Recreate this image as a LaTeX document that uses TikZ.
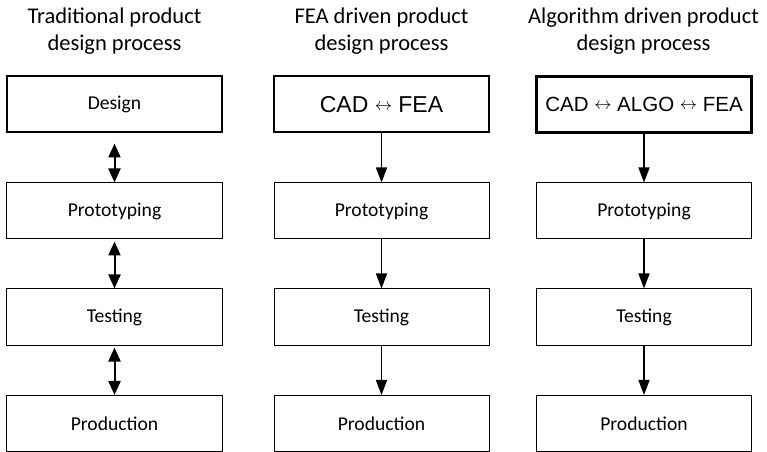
\documentclass[tikz,border=0pt]{standalone}
\usepackage{fontspec}
\setmainfont{Carlito}
\newfontfamily\arialfont{Liberation Sans}
\usetikzlibrary{arrows.meta}
\tikzset{
  box/.style={draw, line width=1bp, minimum width=215bp, minimum height=56bp, inner sep=0pt,
    font=\fontsize{19.6bp}{23bp}\selectfont},
  boxmid/.style={box, line width=2bp},
  boxbold/.style={box, line width=3.2bp},
  title/.style={align=center, font=\fontsize{22.5bp}{27bp}\selectfont, inner sep=0pt},
  dbl/.style={line width=2bp, {Triangle[width=12bp,length=14bp]}-{Triangle[width=12bp,length=14bp]}},
  sgl/.style={line width=1.5bp, -{Triangle[width=11bp,length=15bp]}},
}
\newcommand{\sarrow}{\raisebox{0.1em}{\fontsize{17bp}{17bp}\selectfont$\leftrightarrow$}}
\begin{document}
\begin{tikzpicture}[x=1bp,y=-1bp]
\useasboundingbox (0,0) rectangle (767,452);
% titles
\node[title] (t1) at (114.5,31) {Traditional product\\design process};
\node[title] (t2) at (381.5,31) {FEA driven product\\design process};
\node[title] (t3) at (643.5,31) {Algorithm driven product\\design process};
% left column
\node[boxmid] (a1) at (114.5,104.5) {Design};
\node[box] (a2) at (114.5,211) {Prototyping};
\node[box] (a3) at (114.5,317) {Testing};
\node[box] (a4) at (114.5,423.5) {Production};
% middle column
\node[boxmid, font=\arialfont\fontsize{23bp}{26bp}\selectfont] (b1) at (381.5,104.5) {CAD \sarrow{} FEA};
\node[box] (b2) at (381.5,211) {Prototyping};
\node[box] (b3) at (381.5,317) {Testing};
\node[box] (b4) at (381.5,423.5) {Production};
% right column
\node[boxbold, font=\arialfont\fontsize{20.5bp}{24bp}\selectfont] (c1) at (644,104.5) {CAD \sarrow{} ALGO \sarrow{} FEA};
\node[box] (c2) at (644,211) {Prototyping};
\node[box] (c3) at (644,317) {Testing};
\node[box] (c4) at (644,423.5) {Production};
% arrows
\draw[dbl, shorten <=10bp] (a1) -- (a2);
\draw[dbl, shorten <=2bp] (a2) -- (a3);
\draw[dbl, shorten <=2bp] (a3) -- (a4);
\draw[sgl] (b1) -- (b2);
\draw[sgl] (b2) -- (b3);
\draw[sgl] (b3) -- (b4);
\draw[sgl] (c1) -- (c2);
\draw[sgl] (c2) -- (c3);
\draw[sgl] (c3) -- (c4);
\end{tikzpicture}
\end{document}
